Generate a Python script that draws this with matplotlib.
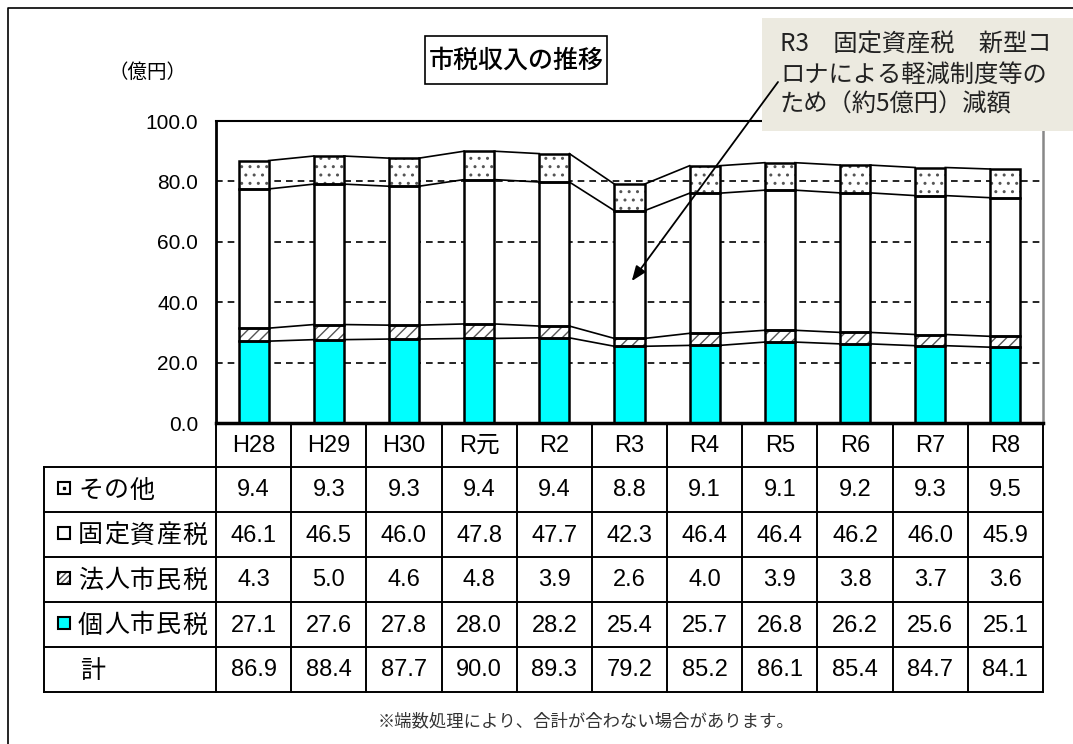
"""市税収入の推移 — stacked bars with a data table underneath."""
import matplotlib
matplotlib.use("Agg")
import matplotlib.pyplot as plt
import numpy as np
from matplotlib.patches import Rectangle

plt.rcParams["font.family"] = ["Liberation Sans", "Noto Sans CJK JP"]
plt.rcParams["hatch.linewidth"] = 1.0

years = ["H28", "H29", "H30", "R元", "R2", "R3", "R4", "R5", "R6", "R7", "R8"]
kojin = [27.1, 27.6, 27.8, 28.0, 28.2, 25.4, 25.7, 26.8, 26.2, 25.6, 25.1]
hojin = [4.3, 5.0, 4.6, 4.8, 3.9, 2.6, 4.0, 3.9, 3.8, 3.7, 3.6]
kotei = [46.1, 46.5, 46.0, 47.8, 47.7, 42.3, 46.4, 46.4, 46.2, 46.0, 45.9]
sonota = [9.4, 9.3, 9.3, 9.4, 9.4, 8.8, 9.1, 9.1, 9.2, 9.3, 9.5]
total = [86.9, 88.4, 87.7, 90.0, 89.3, 79.2, 85.2, 86.1, 85.4, 84.7, 84.1]
row_labels = ["その他", "固定資産税", "法人市民税", "個人市民税", "計"]

W, H = 1073, 744
fig = plt.figure(figsize=(W / 100, H / 100), dpi=100)

# background overlay in pixel coords (frame + table)
ov = fig.add_axes([0, 0, 1, 1], zorder=0)
ov.set_xlim(0, W)
ov.set_ylim(H, 0)
ov.axis("off")

AX_L, AX_R, AX_T, AX_B = 216, 1043, 121, 423
ax = fig.add_axes([AX_L / W, 1 - AX_B / H, (AX_R - AX_L) / W, (AX_B - AX_T) / H], zorder=1)

x = np.arange(len(years))
bw = 0.4
series = [kojin, hojin, kotei, sonota]
styles = [
    dict(color="#00FFFF", hatch=None),
    dict(color="white", hatch="///"),
    dict(color="white", hatch=None),
    dict(color="white", hatch=".."),
]
bottom = np.zeros(len(years))
levels = []
for vals, st in zip(series, styles):
    vals = np.array(vals)
    if st["hatch"]:
        ax.bar(x, vals, bw, bottom=bottom, color=st["color"], edgecolor="#555555",
               hatch=st["hatch"], linewidth=0, zorder=2)
    else:
        ax.bar(x, vals, bw, bottom=bottom, color=st["color"], linewidth=0, zorder=2)
    ax.bar(x, vals, bw, bottom=bottom, fill=False, edgecolor="black", linewidth=1.8, zorder=3)
    bottom = bottom + vals
    levels.append(bottom.copy())

# series lines between bars
for lv in levels:
    for i in range(len(years) - 1):
        ax.plot([x[i] + bw / 2, x[i + 1] - bw / 2], [lv[i], lv[i + 1]],
                color="black", lw=1.2, zorder=3)

ax.set_xlim(-0.5, len(years) - 0.5)
ax.set_ylim(0, 100)
ax.set_yticks(np.arange(0, 101, 20))
ax.set_yticklabels([f"{v:.1f}" for v in np.arange(0, 101, 20)], fontsize=15)
ax.set_xticks([])
ax.tick_params(axis="y", length=0, pad=13)
for v in [20, 40, 60, 80]:
    ax.axhline(v, color="black", lw=1.2, ls=(0, (4, 3)), zorder=1)
ax.spines["left"].set_linewidth(2)
ax.spines["bottom"].set_linewidth(2.5)
ax.spines["top"].set_linewidth(1.5)
ax.spines["right"].set_color("#888888")
ax.spines["right"].set_linewidth(1.8)

# outer frame
ov.plot([8, 8, W + 5], [H + 5, 8, 8], color="black", lw=1.2)

# title & unit
ov.add_patch(Rectangle((425, 36), 182, 48, fc="white", ec="black", lw=1.2))
ov.text(516, 61, "市税収入の推移", fontsize=18, fontweight="medium", ha="center", va="center",
        family=["Noto Sans CJK JP"])
ov.text(147, 72, "（億円）", fontsize=14, ha="center", va="center", family=["Noto Sans CJK JP"])

# data table
colw = (AX_R - AX_L) / len(years)
rows_y = [423, 467, 512, 557, 602, 647, 692]
TL = 44
lw = 1.4
for y in rows_y[1:]:
    ov.plot([TL, AX_R], [y, y], color="black", lw=lw)
for i in range(len(years) + 1):
    ov.plot([AX_L + i * colw] * 2, [rows_y[0], rows_y[-1]], color="black", lw=lw)
ov.plot([TL, TL], [rows_y[1], rows_y[-1]], color="black", lw=lw)

for i, yr in enumerate(years):
    ov.text(AX_L + (i + 0.5) * colw, (rows_y[0] + rows_y[1]) / 2 + 1, yr,
            fontsize=17, ha="center", va="center")

table_vals = [sonota, kotei, hojin, kojin, total]
for r, vals in enumerate(table_vals):
    yc = (rows_y[r + 1] + rows_y[r + 2]) / 2 + 1
    for i, v in enumerate(vals):
        ov.text(AX_L + (i + 0.5) * colw, yc, f"{v:.1f}", fontsize=17, ha="center", va="center")
    lx = 80 if r == 4 else 78
    for k, ch in enumerate(row_labels[r]):
        ov.text(lx + k * 26, yc, ch, fontsize=18, ha="left", va="center",
                family=["Noto Sans CJK JP"])

# legend keys in table
key_styles = [
    dict(fc="white", hatch=None),
    dict(fc="white", hatch=None),
    dict(fc="white", hatch="//////"),
    dict(fc="#00FFFF", hatch=None),
]
for r, ks in enumerate(key_styles):
    yc = (rows_y[r + 1] + rows_y[r + 2]) / 2 - 2
    ov.add_patch(Rectangle((58, yc - 6), 12, 12, fc=ks["fc"], ec="#555555" if ks["hatch"] else "none",
                           hatch=ks["hatch"], lw=0))
    ov.add_patch(Rectangle((58, yc - 6), 12, 12, fill=False, ec="black", lw=1.5))
    if r == 0:
        ov.plot([64], [yc], marker="s", ms=2, color="black")

# footnote
ov.text(586, 721, "※端数処理により、合計が合わない場合があります。", fontsize=12.5,
        ha="center", va="center", color="#333333", family=["Noto Sans CJK JP"])

# annotation box on top
top = fig.add_axes([0, 0, 1, 1], zorder=5)
top.set_xlim(0, W)
top.set_ylim(H, 0)
top.axis("off")
top.patch.set_alpha(0)
top.add_patch(Rectangle((762, 18), 320, 113, fc="#ECEAE0", ec="none"))
note = ["R3　固定資産税　新型コ", "ロナによる軽減制度等の", "ため（約5億円）減額"]
for k, line in enumerate(note):
    top.text(780, 45 + k * 30, line, fontsize=17.5, ha="left", va="center",
             family=["Noto Sans CJK JP"], color="#222222")

tip = top.transData.inverted().transform(ax.transData.transform((x[5] + 0.03, 47)))
top.annotate("", xy=tip, xytext=(778, 82),
             arrowprops=dict(arrowstyle="-|>,head_length=0.9,head_width=0.35",
                             color="black", lw=1.3, shrinkA=0, shrinkB=0))

fig.savefig("out.png", dpi=100)
